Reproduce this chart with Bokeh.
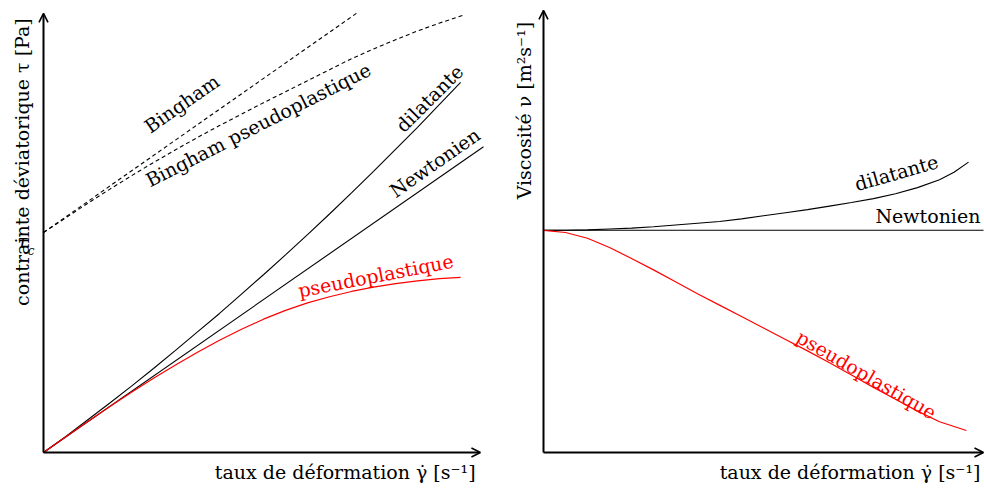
from bokeh.plotting import figure
from bokeh.models import Range1d, Arrow, OpenHead, Label
from bokeh.layouts import row
from bokeh.embed import file_html
from bokeh.resources import INLINE

FONT = "DejaVu Serif"

# ---------------- left panel: shear stress vs shear rate ----------------
newt_x = [0, 10]
newt_tau = [0, 6.95]
dil_x = [0, 0.5, 1, 1.5, 2, 2.5, 3, 3.5, 4, 4.5, 5, 5.5, 6, 6.5, 7, 7.5, 8, 8.5, 9, 9.48]
dil_tau = [0, 0.36, 0.74, 1.12, 1.51, 1.91, 2.32, 2.74, 3.16, 3.60, 4.04, 4.49, 4.95,
           5.42, 5.90, 6.39, 6.89, 7.39, 7.91, 8.41]
pseudo_x = [0, 0.5, 1, 1.5, 2, 2.5, 3, 3.5, 4, 4.5, 5, 5.5, 6, 6.5, 7, 7.5, 8, 8.5, 9, 9.48]
pseudo_tau = [0, 0.35, 0.70, 1.04, 1.37, 1.69, 1.99, 2.28, 2.55, 2.80, 3.03, 3.23, 3.40,
              3.54, 3.66, 3.76, 3.84, 3.90, 3.95, 3.98]
tau_c = 5.0
bing_x = [0, 7.14]
bing_tau = [5.0, 10.0]
bingp_x = [0, 0.5, 1, 1.5, 2, 2.5, 3, 3.5, 4, 4.5, 5, 5.5, 6, 6.5, 7, 7.5, 8, 8.5, 9, 9.52]
bingp_tau = [5.00, 5.33, 5.66, 5.98, 6.29, 6.59, 6.88, 7.16, 7.43, 7.69, 7.95, 8.20, 8.45,
             8.70, 8.95, 9.17, 9.38, 9.58, 9.76, 9.93]

# ---------------- right panel: viscosity vs shear rate ----------------
vnewt_x = [0, 10]
vnewt_nu = [5.05, 5.05]
vdil_x = [0, 0.5, 1, 1.5, 2, 2.5, 3, 3.5, 4, 4.5, 5, 5.5, 6, 6.5, 7, 7.5, 8, 8.5, 9, 9.33, 9.66]
vdil_nu = [5.05, 5.05, 5.06, 5.08, 5.10, 5.13, 5.17, 5.21, 5.25, 5.31, 5.38, 5.45, 5.52,
           5.60, 5.68, 5.77, 5.88, 6.02, 6.20, 6.37, 6.60]
vpseudo_x = [0, 0.5, 1, 1.5, 2, 2.5, 3, 3.5, 4, 4.5, 5, 5.5, 6, 6.5, 7, 7.5, 8, 8.5, 9, 9.61]
vpseudo_nu = [5.05, 5.00, 4.87, 4.66, 4.41, 4.15, 3.88, 3.61, 3.35, 3.09, 2.83, 2.57, 2.31,
              2.04, 1.76, 1.48, 1.21, 0.94, 0.70, 0.50]

H = 488
PX = 44.0
OX = 43      # frame px of origin (x)
OY = 452     # frame px of origin (y, from top)


def make_fig(width):
    p = figure(width=width, height=H, output_backend="svg", toolbar_location=None,
               x_range=Range1d(-OX / PX, (width - OX) / PX),
               y_range=Range1d(-(H - OY) / PX, OY / PX),
               min_border=0, min_border_left=0, min_border_right=0,
               min_border_top=0, min_border_bottom=0)
    p.xaxis.visible = False
    p.yaxis.visible = False
    p.grid.visible = False
    p.outline_line_color = None
    p.background_fill_color = "white"
    p.border_fill_color = "white"
    return p


def add_axes(p, xend, yend):
    p.add_layout(Arrow(end=OpenHead(size=9, line_width=1.6, line_color="black"),
                       x_start=0, y_start=0, x_end=xend, y_end=0,
                       line_width=2, line_color="black"))
    p.add_layout(Arrow(end=OpenHead(size=9, line_width=1.6, line_color="black"),
                       x_start=0, y_start=0, x_end=0, y_end=yend,
                       line_width=2, line_color="black"))


def lab(p, x, y, text, angle_deg=0, color="black", size=19, align="center",
        baseline="middle", style="normal"):
    p.add_layout(Label(x=x, y=y, text=text, angle=angle_deg * 3.14159265 / 180,
                       text_color=color, text_font=FONT, text_font_size=f"{size}px",
                       text_align=align, text_baseline=baseline, text_font_style=style))


# Left figure
pl = make_fig(500)
pl.line(bing_x, bing_tau, line_color="black", line_width=1.1, line_dash="4 3")
pl.line(bingp_x, bingp_tau, line_color="black", line_width=1.1, line_dash="4 3")
pl.line(newt_x, newt_tau, line_color="black", line_width=1.1)
pl.line(dil_x, dil_tau, line_color="black", line_width=1.1)
pl.line(pseudo_x, pseudo_tau, line_color="red", line_width=1.2)
add_axes(pl, 9.93, 9.98)

lab(pl, 3.14, 7.93, "Bingham", 35)
lab(pl, 4.88, 7.45, "Bingham pseudoplastique", 27)
lab(pl, 8.77, 8.05, "dilatante", 45)
lab(pl, 8.89, 6.59, "Newtonien", 35)
lab(pl, 7.55, 4.02, "pseudoplastique", 11, color="red")
lab(pl, -0.48, 6.6, "contrainte déviatorique τ [Pa]", 90)
lab(pl, 9.82, -0.45, "taux de déformation \u03b3\u0307 [s\u207b\u00b9]", 0, align="right")
lab(pl, -0.48, tau_c - 0.2, "τ", 0, size=18, style="italic")
lab(pl, -0.28, tau_c - 0.41, "c", 0, size=12, style="italic")

# Right figure
pr = make_fig(484)
pr.line(vnewt_x, vnewt_nu, line_color="black", line_width=1.1)
pr.line(vdil_x, vdil_nu, line_color="black", line_width=1.1)
pr.line(vpseudo_x, vpseudo_nu, line_color="red", line_width=1.2)
add_axes(pr, 10.0, 10.05)

lab(pr, -0.45, 7.77, "Viscosité ν [m²s\u207b\u00b9]", 90)
lab(pr, 9.93, -0.45, "taux de déformation \u03b3\u0307 [s\u207b\u00b9]", 0, align="right")
lab(pr, 8.02, 6.36, "dilatante", 16)
lab(pr, 9.93, 5.12, "Newtonien", 0, align="right", baseline="bottom")
lab(pr, 7.34, 1.77, "pseudoplastique", -30, color="red")

layout = row(pl, pr)
open("out.html", "w").write(file_html(layout, INLINE))
